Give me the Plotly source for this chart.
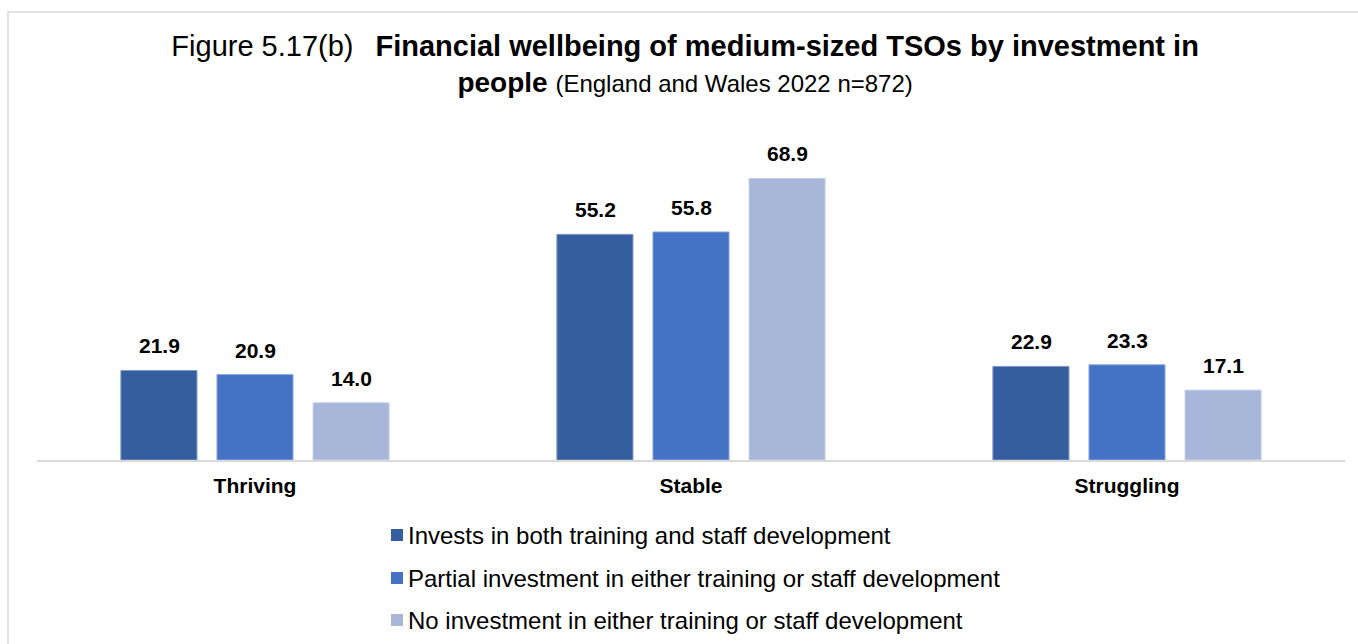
import plotly.graph_objects as go

# Financial wellbeing categories and share (%) of medium-sized TSOs in each
categories = ["Thriving", "Stable", "Struggling"]
series_names = [
    "Invests in both training and staff development",
    "Partial investment in either training or staff development",
    "No investment in either training or staff development",
]
both_training = [21.9, 55.2, 22.9]
partial_investment = [20.9, 55.8, 23.3]
no_investment = [14.0, 68.9, 17.1]

series_values = [both_training, partial_investment, no_investment]
colors = ["#355E9F", "#4472C4", "#A8B6DA"]
edge_colors = ["#7F9AC8", "#8FAADF", "#C9D3EA"]

W, H = 1358, 644
M_L, M_R, M_T, M_B = 37, 13, 133, 184
FONT = "Liberation Sans, Arial, sans-serif"

fig = go.Figure()
for i, (name, vals) in enumerate(zip(series_names, series_values)):
    fig.add_trace(go.Bar(
        x=categories,
        y=vals,
        name=name,
        marker=dict(color=colors[i], line=dict(color=edge_colors[i], width=1)),
        hoverinfo="skip",
        showlegend=False,
    ))

# value labels above each bar
pitch = 96
for i, vals in enumerate(series_values):
    for cat, v in zip(categories, vals):
        fig.add_annotation(
            x=cat, y=v, xref="x", yref="y",
            text=f"<b>{v:.1f}</b>",
            showarrow=False,
            xshift=(i - 1) * pitch,
            yanchor="bottom",
            yshift=11,
            font=dict(family=FONT, size=21, color="#000000"),
        )

# pixel -> paper helpers
plot_w = W - M_L - M_R
plot_h = H - M_T - M_B
def px_x(p):
    return (p - M_L) / plot_w
def px_y(p):
    return (H - M_B - p) / plot_h

# chart frame
fig.add_shape(
    type="rect", xref="paper", yref="paper",
    x0=px_x(8), x1=px_x(1400), y0=px_y(700), y1=px_y(12),
    line=dict(color="#D9D9D9", width=1.5),
    fillcolor="rgba(0,0,0,0)", layer="above",
)

# legend: one row per series, square key followed by its name
legend_left, key_size, text_left = 391, 12, 406
legend_rows = [535, 578, 620]
for name, color, row in zip(series_names, colors, legend_rows):
    fig.add_shape(
        type="rect", xref="paper", yref="paper",
        x0=px_x(legend_left), x1=px_x(legend_left + key_size),
        y0=px_y(row + key_size / 2), y1=px_y(row - key_size / 2),
        line=dict(width=0), fillcolor=color,
    )
    fig.add_annotation(
        xref="paper", yref="paper",
        x=px_x(text_left), y=px_y(row),
        xanchor="left", yanchor="middle",
        text=name, showarrow=False,
        font=dict(family=FONT, size=24, color="#000000"),
    )

title_text = (
    "<span style='font-size:29px'>Figure 5.17(b) \u00a0\u2009<b>Financial wellbeing of "
    "medium-sized TSOs by investment in</b></span><br>"
    "<b>people</b> <span style='font-size:24px'>(England and Wales 2022 n=872)</span>"
)

fig.update_layout(
    width=W, height=H,
    margin=dict(l=M_L, r=M_R, t=M_T, b=M_B, pad=0),
    paper_bgcolor="#FFFFFF",
    plot_bgcolor="#FFFFFF",
    font=dict(family=FONT, color="#000000"),
    title=dict(
        text=title_text,
        x=0.5045, xanchor="center",
        y=1 - 56 / H, yanchor="top",
        font=dict(family=FONT, size=28, color="#000000"),
    ),
    barmode="group",
    bargap=0.339,
    bargroupgap=0.208,
    showlegend=False,
    xaxis=dict(
        showline=True, linecolor="#D9D9D9", linewidth=1.5,
        ticks="", showgrid=False, zeroline=False,
        ticklabelstandoff=6,
        tickfont=dict(family=FONT, size=21, color="#000000", weight="bold"),
    ),
    yaxis=dict(
        range=[0, 80], visible=False, showgrid=False, zeroline=False,
    ),
)

fig.write_html("out.html")
